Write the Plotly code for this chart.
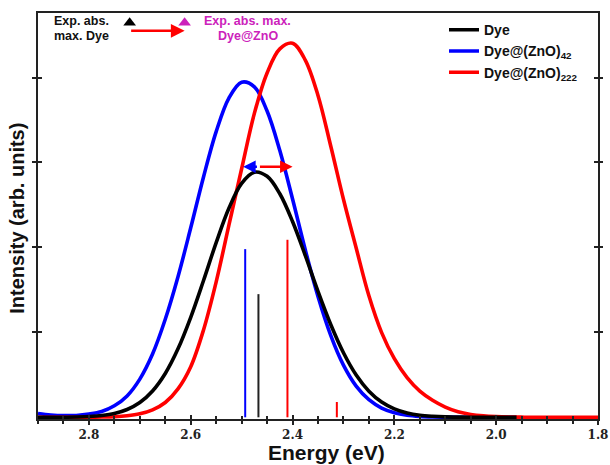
import plotly.graph_objects as go

# ---- data (energy in eV, intensity in arb. units) ----
dye_E = [2.900, 2.875, 2.850, 2.825, 2.800, 2.775, 2.750, 2.725, 2.700, 2.675,
         2.650, 2.625, 2.600, 2.575, 2.550, 2.525, 2.500, 2.475, 2.450, 2.425,
         2.400, 2.375, 2.350, 2.325, 2.300, 2.275, 2.250, 2.225, 2.200, 2.175,
         2.150, 2.125, 2.100, 2.075, 2.050, 2.000, 1.960]
dye_I = [0.0, 0.0005, 0.0013, 0.0036, 0.009, 0.021, 0.045, 0.092, 0.174, 0.31,
         0.516, 0.806, 1.177, 1.608, 2.057, 2.461, 2.755, 2.886, 2.837, 2.632,
         2.305, 1.905, 1.483, 1.093, 0.760, 0.498, 0.308, 0.180, 0.100, 0.052,
         0.025, 0.012, 0.005, 0.002, 0.001, 0.0, 0.0]

zno42_E = [2.900, 2.875, 2.850, 2.825, 2.800, 2.775, 2.750, 2.725, 2.700, 2.675,
           2.650, 2.625, 2.600, 2.575, 2.550, 2.525, 2.500, 2.475, 2.450, 2.425,
           2.400, 2.375, 2.350, 2.325, 2.300, 2.275, 2.250, 2.225, 2.200, 2.175,
           2.150, 2.125, 2.100, 2.050, 2.000, 1.960]
zno42_I = [0.045, 0.028, 0.020, 0.022, 0.038, 0.068, 0.135, 0.252, 0.450, 0.745,
           1.154, 1.655, 2.231, 2.827, 3.363, 3.758, 3.945, 3.891, 3.606, 3.140,
           2.570, 1.972, 1.423, 0.965, 0.614, 0.367, 0.207, 0.109, 0.054, 0.025,
           0.011, 0.0045, 0.002, 0.0, 0.0, 0.0]

zno222_E = [2.900, 2.850, 2.825, 2.800, 2.775, 2.750, 2.725, 2.700, 2.675, 2.650,
            2.625, 2.600, 2.575, 2.550, 2.525, 2.500, 2.475, 2.450, 2.425, 2.400,
            2.375, 2.350, 2.325, 2.300, 2.275, 2.250, 2.225, 2.200, 2.175, 2.150,
            2.125, 2.100, 2.075, 2.050, 2.025, 2.000, 1.975, 1.950, 1.925, 1.900,
            1.850, 1.800]
zno222_I = [0.0, 0.0, 0.0, 0.001, 0.003, 0.007, 0.018, 0.041, 0.087, 0.174,
            0.335, 0.596, 1.026, 1.595, 2.262, 2.926, 3.578, 4.054, 4.337, 4.404,
            4.206, 3.789, 3.194, 2.567, 1.993, 1.430, 0.997, 0.690, 0.467, 0.308,
            0.200, 0.120, 0.065, 0.034, 0.017, 0.008, 0.0035, 0.0015, 0.0, 0.0,
            0.0, 0.0]

# calculated transitions (sticks)
dye_stick_E = [2.467]
dye_stick_I = [1.45]
zno42_stick_E = [2.493]
zno42_stick_I = [1.98]
zno222_stick_E = [2.410, 2.313]
zno222_stick_I = [2.09, 0.18]

# experimental absorption maxima (Dye, Dye@ZnO)
exp_E = [2.72, 2.612]
exp_marker_I = 4.645
exp_arrow_I = 4.55

# shift arrow between computed peaks
shift_from_E = 2.467
shift_blue_E = 2.497
shift_red_E = 2.400
shift_I = 2.95

x_ticks = [2.8, 2.6, 2.4, 2.2, 2.0, 1.8]
y_ticks = [1, 2, 3, 4]

X_RANGE = [2.9, 1.8]
Y_RANGE = [-0.02, 4.76]

BOLD = "Liberation Sans, Arial"
AXC = "#222222"


def stick_xy(es, hs):
    xs, ys = [], []
    for e, h in zip(es, hs):
        xs += [e, e, None]
        ys += [0, h, None]
    return xs, ys


fig = go.Figure()

for es, hs, col in [(zno42_stick_E, zno42_stick_I, "#0000FF"),
                    (dye_stick_E, dye_stick_I, "#222222"),
                    (zno222_stick_E, zno222_stick_I, "#FF0000")]:
    sx, sy = stick_xy(es, hs)
    fig.add_trace(go.Scatter(x=sx, y=sy, mode="lines", line=dict(color=col, width=2),
                             showlegend=False, hoverinfo="skip"))

fig.add_trace(go.Scatter(x=zno42_E, y=zno42_I, mode="lines",
                         name="<b>Dye@(ZnO)<sub>42</sub></b>",
                         line=dict(color="#0000FF", width=3.6, shape="spline", smoothing=1),
                         legendrank=2))
fig.add_trace(go.Scatter(x=zno222_E, y=zno222_I, mode="lines",
                         name="<b>Dye@(ZnO)<sub>222</sub></b>",
                         line=dict(color="#FF0000", width=3.6, shape="spline", smoothing=1),
                         legendrank=3))
fig.add_trace(go.Scatter(x=dye_E, y=dye_I, mode="lines", name="<b>Dye</b>",
                         line=dict(color="#000000", width=3.6, shape="spline", smoothing=1),
                         legendrank=1))

fig.add_trace(go.Scatter(x=exp_E, y=[exp_marker_I, exp_marker_I], mode="markers",
                         marker=dict(symbol="triangle-up", size=11,
                                     color=["#000000", "#CC22BB"]),
                         showlegend=False, hoverinfo="skip", cliponaxis=False))

# invisible traces so the overlay tick axes are drawn
for xa, ya in [("x2", "y2"), ("x", "y3"), ("x", "y4")]:
    fig.add_trace(go.Scatter(x=[2.0], y=[0], xaxis=xa, yaxis=ya, mode="markers",
                             marker=dict(opacity=0), showlegend=False, hoverinfo="skip"))

ann = []
ann.append(dict(x=exp_E[1], y=exp_arrow_I, ax=exp_E[0], ay=exp_arrow_I,
                xref="x", yref="y", axref="x", ayref="y", text="", showarrow=True,
                arrowhead=2, arrowsize=1.1, arrowwidth=2.5, arrowcolor="#FF0000"))
ann.append(dict(x=shift_blue_E, y=shift_I, ax=shift_from_E, ay=shift_I,
                xref="x", yref="y", axref="x", ayref="y", text="", showarrow=True,
                arrowhead=2, arrowsize=1.0, arrowwidth=2.5, arrowcolor="#0000FF"))
ann.append(dict(x=shift_red_E, y=shift_I, ax=shift_from_E, ay=shift_I,
                xref="x", yref="y", axref="x", ayref="y", text="", showarrow=True,
                arrowhead=2, arrowsize=1.0, arrowwidth=2.5, arrowcolor="#FF0000"))

for txt, yv in [("<b>Exp. abs.</b>", 4.665), ("<b>max. Dye</b>", 4.49)]:
    ann.append(dict(x=2.872, y=yv, xref="x", yref="y", xanchor="left", yanchor="middle",
                    showarrow=False, text=txt,
                    font=dict(family=BOLD, size=12.5, color="#111111")))
for txt, yv in [("<b>Exp. abs. max.</b>", 4.665), ("<b>Dye@ZnO</b>", 4.49)]:
    ann.append(dict(x=2.488, y=yv, xref="x", yref="y", xanchor="center", yanchor="middle",
                    showarrow=False, text=txt,
                    font=dict(family=BOLD, size=12.5, color="#CC22BB")))

ann.append(dict(x=0.515, y=-0.082, xref="paper", yref="paper", xanchor="center",
                yanchor="middle", showarrow=False, text="<b>Energy (eV)</b>",
                font=dict(family=BOLD, size=21, color="#111111")))
ann.append(dict(x=-0.037, y=0.494, xref="paper", yref="paper", xanchor="center",
                yanchor="middle", showarrow=False, textangle=-90,
                text="<b>Intensity (arb. units)</b>",
                font=dict(family=BOLD, size=20, color="#111111")))


def tick_yaxis(side, ticks):
    return dict(range=Y_RANGE, overlaying="y", anchor="x", side=side,
                tickvals=y_ticks, showticklabels=False, ticks=ticks, ticklen=4,
                tickwidth=1.5, tickcolor=AXC, showline=False, showgrid=False,
                zeroline=False, automargin=False)


fig.update_layout(
    width=610, height=465,
    margin=dict(l=38, r=12, t=13, b=46, autoexpand=False),
    paper_bgcolor="white", plot_bgcolor="white",
    showlegend=True,
    legend=dict(x=0.725, y=0.997, xanchor="left", yanchor="top",
                bgcolor="rgba(0,0,0,0)", borderwidth=0, tracegroupgap=0,
                font=dict(family=BOLD, size=14, color="#111111"),
                itemwidth=30),
    annotations=ann,
    xaxis=dict(range=X_RANGE, tickvals=x_ticks, ticktext=[f"{v:.1f}" for v in x_ticks],
               ticks="outside", ticklen=4, tickwidth=1.5, tickcolor=AXC,
               minor=dict(dtick=0.05, tick0=1.8, ticks="outside", ticklen=3, tickwidth=1.5,
                          tickcolor=AXC),
               showline=True, linecolor=AXC, linewidth=2, mirror=True,
               showgrid=False, zeroline=False, layer="below traces", automargin=False,
               tickfont=dict(family="DejaVu Serif", size=12, color=AXC, weight="bold")),
    yaxis=dict(range=Y_RANGE, tickvals=y_ticks, showticklabels=False,
               ticks="outside", ticklen=4, tickwidth=1.5, tickcolor=AXC,
               showline=True, linecolor=AXC, linewidth=2, mirror=True,
               showgrid=False, zeroline=False, layer="below traces", automargin=False),
    xaxis2=dict(range=X_RANGE, overlaying="x", anchor="y", side="bottom",
                tickvals=x_ticks, showticklabels=False, ticks="inside", ticklen=4,
                tickwidth=1.5, tickcolor=AXC,
                minor=dict(dtick=0.05, tick0=1.8, ticks="inside", ticklen=3, tickwidth=1.5,
                           tickcolor=AXC),
                showline=False, showgrid=False, zeroline=False, automargin=False),
    yaxis2=tick_yaxis("left", "inside"),
    yaxis3=tick_yaxis("right", "outside"),
    yaxis4=tick_yaxis("right", "inside"),
)

fig.write_html("out.html", config={"displayModeBar": False},
               post_script="document.body.style.margin='0';document.body.style.padding='0';")
